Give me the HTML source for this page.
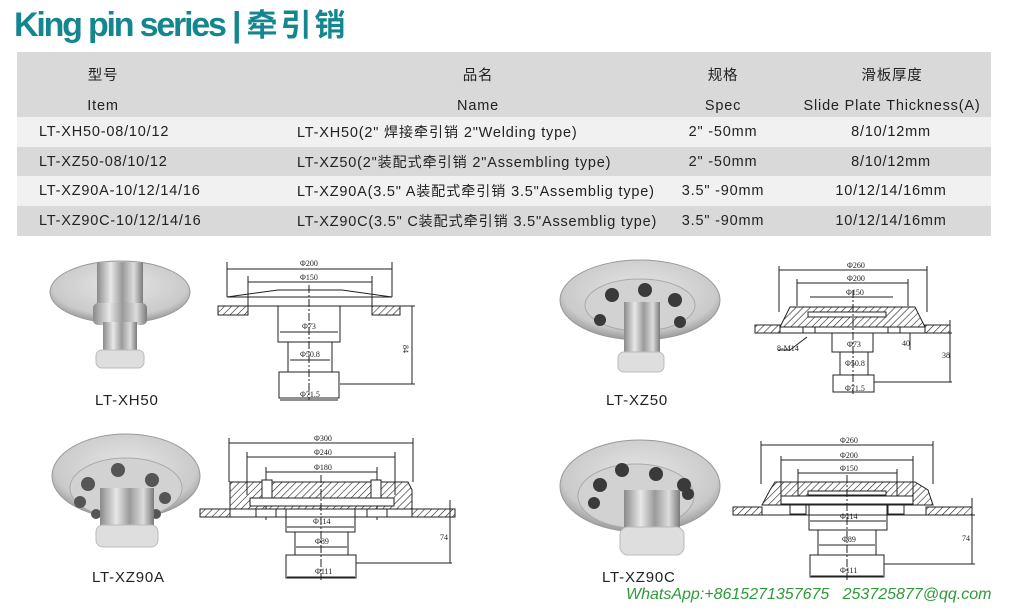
<!DOCTYPE html>
<html><head><meta charset="utf-8">
<style>
*{margin:0;padding:0;box-sizing:border-box}
body{width:1024px;height:612px;background:#fff;position:relative;overflow:hidden;font-family:"Liberation Sans","Noto Sans CJK SC",sans-serif;color:#222}
.t{position:absolute;white-space:nowrap}
#title{left:14px;top:3px;font-size:34px;line-height:40px;font-weight:bold;color:#14868f;letter-spacing:-2.2px}
#title span{font-family:"Noto Sans CJK SC",sans-serif;letter-spacing:3px;font-size:31px}
.row{position:absolute;left:17px;width:974px}
.c{position:absolute;font-size:14.5px;line-height:16px;letter-spacing:0.8px;white-space:nowrap;top:7px}
.c span{font-family:"Noto Sans CJK SC",sans-serif;font-size:14px;line-height:16px;letter-spacing:1px}
.cc{transform:translateX(-50%)}
.lab{position:absolute;font-size:15px;letter-spacing:0.8px}
svg{position:absolute;left:0;top:0}
</style></head><body>
<div class="t" id="title">King pin series | <span>牵引销</span></div>

<div class="row" style="top:52px;height:65px;background:#d9d9d9">
 <div class="c cc" style="left:86px;top:16px">型号</div>
 <div class="c cc" style="left:461px;top:16px">品名</div>
 <div class="c cc" style="left:706px;top:16px">规格</div>
 <div class="c cc" style="left:875px;top:16px">滑板厚度</div>
 <div class="c cc" style="left:86px;top:46px">Item</div>
 <div class="c cc" style="left:461px;top:46px">Name</div>
 <div class="c cc" style="left:706px;top:46px">Spec</div>
 <div class="c cc" style="left:875px;top:46px">Slide Plate Thickness(A)</div>
</div>
<div class="row" style="top:117px;height:30px;background:#f1f1f1">
 <div class="c" style="left:22px">LT-XH50-08/10/12</div>
 <div class="c" style="left:280px">LT-XH50(2" <span>焊接牵引销</span> 2"Welding type)</div>
 <div class="c cc" style="left:706px">2"  -50mm</div>
 <div class="c cc" style="left:874px">8/10/12mm</div>
</div>
<div class="row" style="top:147px;height:29px;background:#d9d9d9">
 <div class="c" style="left:22px">LT-XZ50-08/10/12</div>
 <div class="c" style="left:280px">LT-XZ50(2"<span>装配式牵引销</span> 2"Assembling type)</div>
 <div class="c cc" style="left:706px">2"  -50mm</div>
 <div class="c cc" style="left:874px">8/10/12mm</div>
</div>
<div class="row" style="top:176px;height:30px;background:#f1f1f1">
 <div class="c" style="left:22px">LT-XZ90A-10/12/14/16</div>
 <div class="c" style="left:280px">LT-XZ90A(3.5" A<span>装配式牵引销</span> 3.5"Assemblig type)</div>
 <div class="c cc" style="left:706px">3.5"  -90mm</div>
 <div class="c cc" style="left:874px">10/12/14/16mm</div>
</div>
<div class="row" style="top:206px;height:30px;background:#d9d9d9">
 <div class="c" style="left:22px">LT-XZ90C-10/12/14/16</div>
 <div class="c" style="left:280px">LT-XZ90C(3.5" C<span>装配式牵引销</span> 3.5"Assemblig type)</div>
 <div class="c cc" style="left:706px">3.5"  -90mm</div>
 <div class="c cc" style="left:874px">10/12/14/16mm</div>
</div>

<svg width="1024" height="612" viewBox="0 0 1024 612" style="top:0">
<defs>
 <pattern id="h" width="5" height="5" patternUnits="userSpaceOnUse" patternTransform="rotate(45)"><line x1="0" y1="0" x2="0" y2="5" stroke="#222" stroke-width="1.2"/></pattern>
 <linearGradient id="m" x1="0" x2="1"><stop offset="0" stop-color="#8a8a8a"/><stop offset=".3" stop-color="#e8e8e8"/><stop offset=".55" stop-color="#9a9a9a"/><stop offset=".8" stop-color="#dcdcdc"/><stop offset="1" stop-color="#7a7a7a"/></linearGradient>
 <radialGradient id="f" cx=".5" cy=".4" r=".6"><stop offset="0" stop-color="#e6e6e6"/><stop offset=".8" stop-color="#cacaca"/><stop offset="1" stop-color="#9a9a9a"/></radialGradient>
</defs>

<ellipse cx="120" cy="292" rx="70" ry="31" fill="url(#f)" stroke="#999"/>
<rect x="97" y="262" width="46" height="50" fill="url(#m)"/>
<rect x="93" y="303" width="54" height="22" rx="5" fill="url(#m)"/>
<rect x="103" y="322" width="34" height="32" fill="url(#m)"/>
<rect x="96" y="350" width="48" height="18" rx="6" fill="#dedede" stroke="#bbb"/>

<ellipse cx="640" cy="300" rx="80" ry="40" fill="url(#f)" stroke="#999"/>
<ellipse cx="640" cy="305" rx="55" ry="26" fill="#d2d2d2" stroke="#aaa"/>
<g fill="#3a3a3a"><circle cx="612" cy="295" r="7"/><circle cx="645" cy="290" r="7"/><circle cx="675" cy="300" r="7"/><circle cx="680" cy="322" r="6"/><circle cx="600" cy="320" r="6"/></g>
<rect x="624" y="302" width="36" height="52" fill="url(#m)"/>
<rect x="618" y="352" width="46" height="20" rx="6" fill="#dedede" stroke="#bbb"/>

<ellipse cx="126" cy="476" rx="74" ry="42" fill="url(#f)" stroke="#999"/>
<ellipse cx="126" cy="488" rx="56" ry="30" fill="#d2d2d2" stroke="#aaa"/>
<g fill="#555"><circle cx="88" cy="484" r="7"/><circle cx="118" cy="470" r="7"/><circle cx="152" cy="480" r="7"/><circle cx="165" cy="498" r="6"/><circle cx="80" cy="502" r="6"/><circle cx="96" cy="514" r="5"/><circle cx="156" cy="514" r="5"/></g>
<rect x="100" y="488" width="54" height="40" fill="url(#m)"/>
<rect x="96" y="525" width="62" height="22" rx="7" fill="#dedede" stroke="#bbb"/>

<ellipse cx="640" cy="486" rx="80" ry="46" fill="url(#f)" stroke="#999"/>
<ellipse cx="636" cy="496" rx="58" ry="32" fill="#d2d2d2" stroke="#aaa"/>
<g fill="#3a3a3a"><circle cx="622" cy="470" r="7"/><circle cx="656" cy="474" r="7"/><circle cx="684" cy="485" r="7"/><circle cx="688" cy="494" r="6"/><circle cx="600" cy="485" r="7"/><circle cx="594" cy="503" r="6"/></g>
<rect x="624" y="490" width="56" height="40" fill="url(#m)"/>
<rect x="620" y="527" width="64" height="28" rx="8" fill="#dedede" stroke="#bbb"/>

<g stroke="#222" stroke-width="1" fill="none" font-family="Liberation Serif,serif" font-size="8">
<line x1="227" y1="269" x2="392" y2="269"/><line x1="227" y1="262" x2="227" y2="297"/><line x1="392" y1="262" x2="392" y2="297"/>
<line x1="248" y1="282" x2="372" y2="282"/><line x1="248" y1="276" x2="248" y2="315"/><line x1="372" y1="276" x2="372" y2="315"/>
<path d="M227 297 L278 290 L342 290 L392 297 Z"/>
<rect x="218" y="306" width="30" height="9" fill="url(#h)"/><rect x="372" y="306" width="28" height="9" fill="url(#h)"/>
<line x1="218" y1="306" x2="415" y2="306"/>
<path d="M278 306 L278 342 L340 342 L340 306"/>
<rect x="288" y="342" width="44" height="30"/><rect x="279" y="372" width="60" height="26"/>
<line x1="309" y1="285" x2="309" y2="400" stroke-dasharray="8 2 2 2"/>
<line x1="280" y1="332" x2="338" y2="332"/><line x1="290" y1="360" x2="330" y2="360"/><line x1="280" y1="400" x2="338" y2="400"/>
<line x1="412" y1="306" x2="412" y2="384"/><line x1="340" y1="384" x2="415" y2="384"/>
<g stroke="none" fill="#222"><text x="300" y="266">Φ200</text><text x="300" y="280">Φ150</text><text x="302" y="329">Φ73</text><text x="300" y="357">Φ50.8</text><text x="300" y="397">Φ71.5</text><text x="402" y="350" transform="rotate(90 405 348)">84</text></g>

<line x1="779" y1="270" x2="927" y2="270"/><line x1="779" y1="266" x2="779" y2="312"/><line x1="927" y1="266" x2="927" y2="312"/>
<line x1="797" y1="283" x2="908" y2="283"/><line x1="797" y1="279" x2="797" y2="306"/><line x1="908" y1="279" x2="908" y2="306"/>
<line x1="810" y1="297" x2="893" y2="297"/>
<path d="M780 327 L790 307 L915 307 L925 327 Z" fill="url(#h)"/>
<rect x="808" y="312" width="78" height="5" fill="#fff"/>
<rect x="755" y="325" width="25" height="8" fill="url(#h)"/><rect x="925" y="325" width="25" height="8" fill="url(#h)"/>
<line x1="755" y1="333" x2="952" y2="333"/>
<rect x="803" y="327" width="12" height="6" fill="#fff"/><rect x="888" y="327" width="12" height="6" fill="#fff"/>
<path d="M832 333 L832 352 L873 352 L873 333"/>
<rect x="840" y="352" width="28" height="23"/><rect x="833" y="375" width="41" height="17"/>
<line x1="853" y1="290" x2="853" y2="394" stroke-dasharray="8 2 2 2"/>
<line x1="807" y1="337" x2="790" y2="350"/><line x1="790" y1="350" x2="778" y2="350"/>
<line x1="950" y1="320" x2="950" y2="382"/><line x1="874" y1="382" x2="952" y2="382"/><line x1="910" y1="333" x2="910" y2="350"/>
<g stroke="none" fill="#222"><text x="847" y="268">Φ260</text><text x="847" y="281">Φ200</text><text x="846" y="295">Φ150</text><text x="847" y="347">Φ73</text><text x="845" y="366">Φ50.8</text><text x="845" y="391">Φ71.5</text><text x="777" y="351">8-M14</text><text x="942" y="358">38</text><text x="902" y="346">40</text></g>

<line x1="229" y1="443" x2="413" y2="443"/><line x1="229" y1="438" x2="229" y2="482"/><line x1="413" y1="438" x2="413" y2="482"/>
<line x1="247" y1="457" x2="395" y2="457"/><line x1="247" y1="452" x2="247" y2="495"/><line x1="395" y1="452" x2="395" y2="495"/>
<line x1="266" y1="472" x2="377" y2="472"/><line x1="266" y1="467" x2="266" y2="520"/><line x1="377" y1="467" x2="377" y2="520"/>
<path d="M230 509 L230 482 L408 482 L412 490 L412 509 Z" fill="url(#h)"/>
<rect x="250" y="498" width="144" height="8" fill="#fff"/>
<rect x="262" y="480" width="10" height="18" fill="#fff"/><rect x="371" y="480" width="10" height="18" fill="#fff"/>
<rect x="200" y="509" width="30" height="8" fill="url(#h)"/><rect x="412" y="509" width="43" height="8" fill="url(#h)"/>
<line x1="200" y1="517" x2="455" y2="517"/>
<rect x="256" y="509" width="20" height="8" fill="#fff"/><rect x="367" y="509" width="20" height="8" fill="#fff"/>
<path d="M286 509 L286 532 L355 532 L355 509"/>
<rect x="295" y="532" width="53" height="23"/><rect x="286" y="555" width="70" height="23"/>
<line x1="321" y1="475" x2="321" y2="580" stroke-dasharray="8 2 2 2"/>
<line x1="287" y1="527" x2="354" y2="527"/><line x1="296" y1="547" x2="347" y2="547"/><line x1="287" y1="577" x2="355" y2="577"/>
<line x1="450" y1="500" x2="450" y2="563"/><line x1="356" y1="563" x2="452" y2="563"/>
<g stroke="none" fill="#222"><text x="314" y="441">Φ300</text><text x="314" y="455">Φ240</text><text x="314" y="470">Φ180</text><text x="313" y="524">Φ114</text><text x="315" y="544">Φ89</text><text x="315" y="574">Φ111</text><text x="440" y="540">74</text></g>

<line x1="761" y1="445" x2="933" y2="445"/><line x1="761" y1="441" x2="761" y2="484"/><line x1="933" y1="441" x2="933" y2="484"/>
<line x1="781" y1="460" x2="913" y2="460"/><line x1="781" y1="456" x2="781" y2="498"/><line x1="913" y1="456" x2="913" y2="498"/>
<line x1="798" y1="473" x2="897" y2="473"/><line x1="798" y1="469" x2="798" y2="505"/><line x1="897" y1="469" x2="897" y2="505"/>
<path d="M762 505 L770 490 L775 482 L915 482 L928 490 L933 505 Z" fill="url(#h)"/>
<rect x="808" y="491" width="78" height="4" fill="#fff"/><rect x="781" y="496" width="132" height="8" fill="#fff"/>
<rect x="733" y="507" width="29" height="8" fill="url(#h)"/><rect x="926" y="507" width="46" height="8" fill="url(#h)"/>
<line x1="733" y1="515" x2="975" y2="515"/>
<rect x="790" y="505" width="16" height="9" fill="#fff"/><rect x="888" y="505" width="16" height="9" fill="#fff"/>
<path d="M809 505 L809 530 L887 530 L887 505"/>
<rect x="818" y="530" width="58" height="25"/><rect x="810" y="555" width="74" height="22"/>
<line x1="847" y1="475" x2="847" y2="580" stroke-dasharray="8 2 2 2"/>
<line x1="810" y1="521" x2="886" y2="521"/><line x1="819" y1="545" x2="875" y2="545"/><line x1="811" y1="576" x2="883" y2="576"/>
<line x1="972" y1="498" x2="972" y2="564"/><line x1="884" y1="564" x2="975" y2="564"/>
<g stroke="none" fill="#222"><text x="840" y="443">Φ260</text><text x="840" y="458">Φ200</text><text x="840" y="471">Φ150</text><text x="840" y="519">Φ114</text><text x="842" y="542">Φ89</text><text x="840" y="573">Φ111</text><text x="962" y="541">74</text></g>
</g>
</svg>

<div class="lab" style="left:95px;top:392px">LT-XH50</div>
<div class="lab" style="left:606px;top:392px">LT-XZ50</div>
<div class="lab" style="left:92px;top:569px">LT-XZ90A</div>
<div class="lab" style="left:602px;top:569px">LT-XZ90C</div>
<div class="t" style="left:626px;top:586px;font-size:16px;font-style:italic;color:#2e9a3a">WhatsApp:+8615271357675&nbsp;&nbsp;&nbsp;253725877@qq.com</div>
</body></html>
